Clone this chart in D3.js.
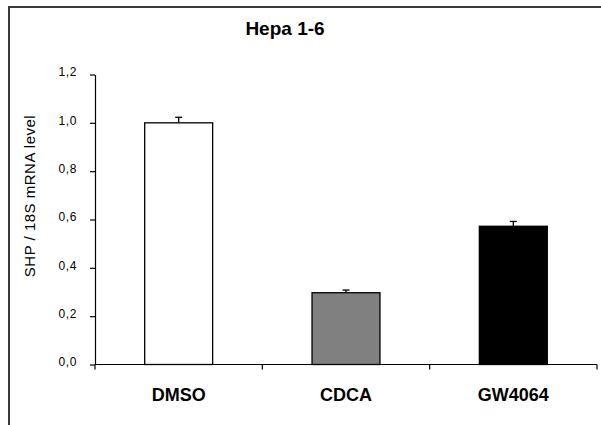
<!DOCTYPE html>
<html>
<head>
<meta charset="utf-8">
<script src="https://cdn.jsdelivr.net/npm/d3@7"></script>
<style>
  html, body { margin: 0; padding: 0; background: #fff; }
  svg { display: block; font-family: "Liberation Sans", Arial, Helvetica, sans-serif; }
</style>
</head>
<body>
<svg id="chart" width="601" height="425"></svg>
<script>
// Relative SHP expression in Hepa 1-6 cells
const categories = ["DMSO", "CDCA", "GW4064"];
const values = [1.0, 0.297, 0.572];
const errors = [0.023, 0.011, 0.02];
const fills = ["#ffffff", "#808080", "#000000"];
const yTicks = [0, 0.2, 0.4, 0.6, 0.8, 1.0, 1.2];
const title = "Hepa 1-6";
const yLabel = "SHP / 18S mRNA level";

const svg = d3.select("#chart");
const W = 601, H = 425;
const plot = { left: 95, right: 597, top: 74.5, bottom: 364.5 };

// outer frame (only the top and left edges fall inside the canvas)
svg.append("path")
  .attr("d", `M9,${H} L9,7 L${W},7`)
  .attr("fill", "none")
  .attr("stroke", "#3a3a3a")
  .attr("stroke-width", 2);

const y = d3.scaleLinear().domain([0, 1.2]).range([plot.bottom, plot.top]);
const x = d3.scaleBand().domain(categories)
  .range([plot.left, plot.right])
  .paddingInner(0.594).paddingOuter(0.297);

const locale = d3.formatLocale({ decimal: ",", thousands: ".", grouping: [3], currency: ["", "€"] });
const fmt = locale.format(".1f");

// y axis
const yAxis = d3.axisLeft(y).tickValues(yTicks).tickFormat(fmt).tickSize(5).tickSizeOuter(0);
const gy = svg.append("g").attr("transform", `translate(${plot.left},0)`).call(yAxis);
gy.select(".domain").attr("stroke", "#000").attr("stroke-width", 1.2);
gy.selectAll(".tick line").attr("stroke", "#000").attr("stroke-width", 1.2);
gy.selectAll(".tick text")
  .attr("x", -18)
  .attr("dy", "0.1em")
  .attr("font-size", 12)
  .attr("letter-spacing", 0.6)
  .attr("fill", "#000")
  .attr("font-family", "Liberation Sans, Arial, sans-serif");

// x axis line with ticks at the category boundaries
const boundaries = [plot.left].concat(categories.map(c => x(c) + x.bandwidth() / 2 + x.step() / 2));
svg.append("line")
  .attr("x1", plot.left).attr("x2", plot.right)
  .attr("y1", y(0)).attr("y2", y(0))
  .attr("stroke", "#000").attr("stroke-width", 1.2);
svg.selectAll(".xtick").data(boundaries).join("line")
  .attr("class", "xtick")
  .attr("x1", d => d).attr("x2", d => d)
  .attr("y1", y(0)).attr("y2", y(0) + 5)
  .attr("stroke", "#000").attr("stroke-width", 1.2);

// category labels
svg.selectAll(".xlabel").data(categories).join("text")
  .attr("class", "xlabel")
  .attr("x", d => x(d) + x.bandwidth() / 2)
  .attr("y", 401)
  .attr("text-anchor", "middle")
  .attr("font-weight", "bold")
  .attr("font-size", 18)
  .attr("fill", "#000")
  .text(d => d);

// error bars (upper only)
const errG = svg.append("g");
categories.forEach((c, i) => {
  const cx = x(c) + x.bandwidth() / 2;
  errG.append("line")
    .attr("x1", cx).attr("x2", cx)
    .attr("y1", y(values[i])).attr("y2", y(values[i] + errors[i]))
    .attr("stroke", "#000").attr("stroke-width", 1.3);
  errG.append("line")
    .attr("x1", cx - 3.5).attr("x2", cx + 3.5)
    .attr("y1", y(values[i] + errors[i])).attr("y2", y(values[i] + errors[i]))
    .attr("stroke", "#000").attr("stroke-width", 1.3);
});

// bars
svg.selectAll(".bar").data(categories).join("rect")
  .attr("class", "bar")
  .attr("x", d => x(d))
  .attr("width", x.bandwidth())
  .attr("y", (d, i) => y(values[i]))
  .attr("height", (d, i) => y(0) - y(values[i]))
  .attr("fill", (d, i) => fills[i])
  .attr("stroke", "#000")
  .attr("stroke-width", 1.3);

// title
svg.append("text")
  .attr("x", 285).attr("y", 35)
  .attr("text-anchor", "middle")
  .attr("font-weight", "bold")
  .attr("font-size", 19)
  .attr("fill", "#000")
  .text(title);

// y axis title
svg.append("text")
  .attr("transform", "translate(35,196) rotate(-90)")
  .attr("text-anchor", "middle")
  .attr("font-size", 15)
  .attr("letter-spacing", 0.5)
  .attr("fill", "#000")
  .text(yLabel);
</script>
</body>
</html>
